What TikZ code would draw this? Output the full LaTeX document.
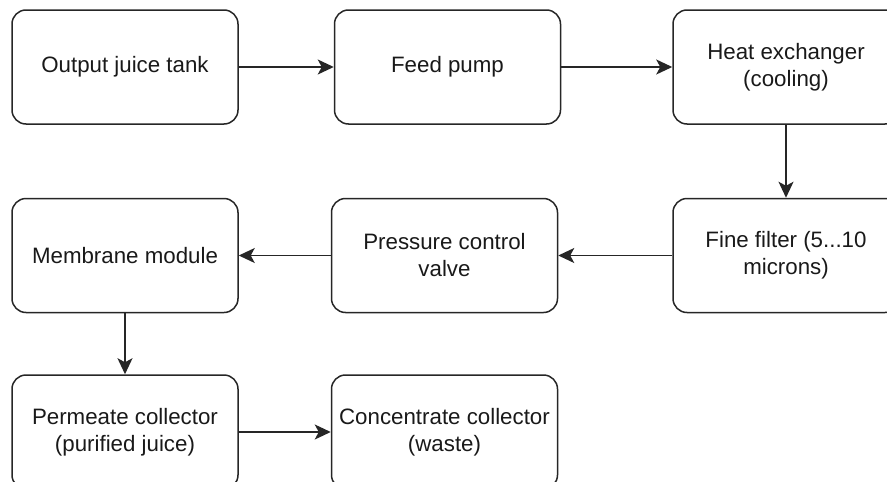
\documentclass[tikz,border=0pt]{standalone}
\usepackage{fontspec}
\setmainfont{Liberation Sans}
\usetikzlibrary{positioning,arrows.meta}
\begin{document}
\begin{tikzpicture}[x=1pt, y=1pt,
    every node/.style = {shape=rectangle, rounded corners=14pt,
      draw=black!85, line width=1.5pt, align=center,
      minimum width=226pt, minimum height=114pt, text=black!90,
      font=\fontsize{22.3}{27}\selectfont},
    flow/.style = {-{Stealth[length=16pt,width=15pt,inset=4pt]},
      draw=black!85, line width=1.5pt}]
    \useasboundingbox (0,0) rectangle (887,-482);
    \node (tank) at (125,-67) {Output juice tank};
    \node (pump) [right=95pt of tank] {Feed pump};
    \node (heat) [right=111pt of pump] {Heat exchanger\\(cooling)};
    \node (filter) [below=73pt of heat] {Fine filter (5...10\\microns)};
    \node (valve) [left=114pt of filter] {Pressure control\\valve};
    \node (membrane) [left=92pt of valve] {Membrane module};
    \node (permeate) [below=61pt of membrane] {Permeate collector\\(purified juice)};
    \node (concentrate) [right=92pt of permeate] {Concentrate collector\\(waste)};
    \draw[flow] (tank) -- (pump);
    \draw[flow] (pump) -- (heat);
    \draw[flow] (heat) -- (filter);
    \draw[flow] (filter) -- (valve);
    \draw[flow] (valve) -- (membrane);
    \draw[flow] (membrane) -- (permeate);
    \draw[flow] (permeate) -- (concentrate);
\end{tikzpicture}
\end{document}
